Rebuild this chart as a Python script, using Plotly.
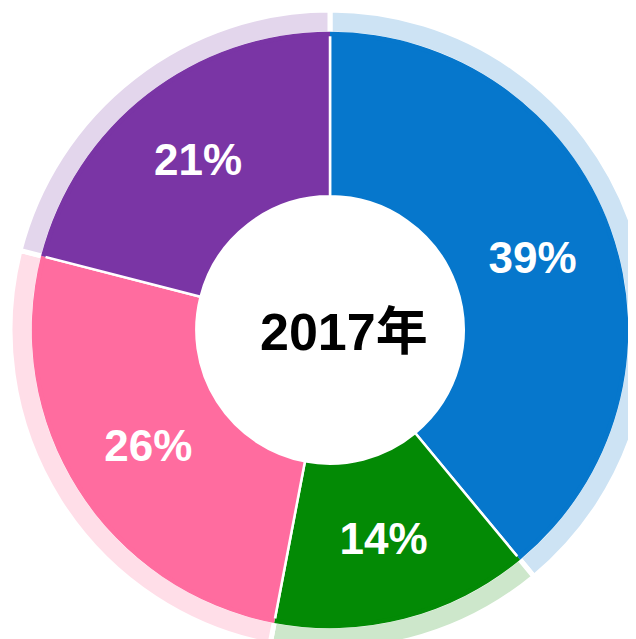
import plotly.graph_objects as go

categories = ["A", "B", "C", "D"]
values = [39, 14, 26, 21]
main_colors = ["#0677CC", "#038A05", "#FF6C9F", "#7A35A5"]
light_colors = ["#CDE3F4", "#CDE7CB", "#FFDEE8", "#E3D6EC"]
center_label = "2017年"

fig = go.Figure()
# outer light ring
fig.add_trace(go.Pie(
    labels=categories, values=values, sort=False, direction="clockwise",
    hole=0.925, marker=dict(colors=light_colors, line=dict(color="white", width=5)),
    textinfo="none", hoverinfo="none", showlegend=False,
    domain=dict(x=[0, 1], y=[0, 1]),
))
# main donut
fig.add_trace(go.Pie(
    labels=categories, values=values, sort=False, direction="clockwise",
    hole=0.45, marker=dict(colors=main_colors, line=dict(color="white", width=2.5)),
    texttemplate="%{value}%", textposition="inside", insidetextorientation="horizontal",
    textfont=dict(family="Arial, Liberation Sans", size=44, color="white", weight="bold"),
    showlegend=False,
    domain=dict(x=[0.036, 0.964], y=[0.036, 0.964]),
))
# thin band hiding the seam between the two rings
fig.add_trace(go.Pie(
    labels=categories, values=values, sort=False, direction="clockwise",
    hole=0.985, marker=dict(colors=main_colors, line=dict(width=0)),
    textinfo="none", hoverinfo="none", showlegend=False,
    domain=dict(x=[0.034, 0.966], y=[0.034, 0.966]),
))
fig.add_annotation(
    text="<b>" + center_label + "</b>", x=0.5, y=0.5, xref="paper", yref="paper",
    xshift=14, yshift=-2,
    showarrow=False, font=dict(family="Arial, Liberation Sans, Noto Sans CJK SC", size=52, color="black"),
)
fig.update_layout(
    width=650, height=650, margin=dict(l=2, r=8, t=2, b=8),
    paper_bgcolor="white", plot_bgcolor="white",
    uniformtext=dict(minsize=44, mode="show"),
)
fig.write_html("out.html", post_script="document.body.style.overflow='hidden';document.documentElement.style.overflow='hidden';")
